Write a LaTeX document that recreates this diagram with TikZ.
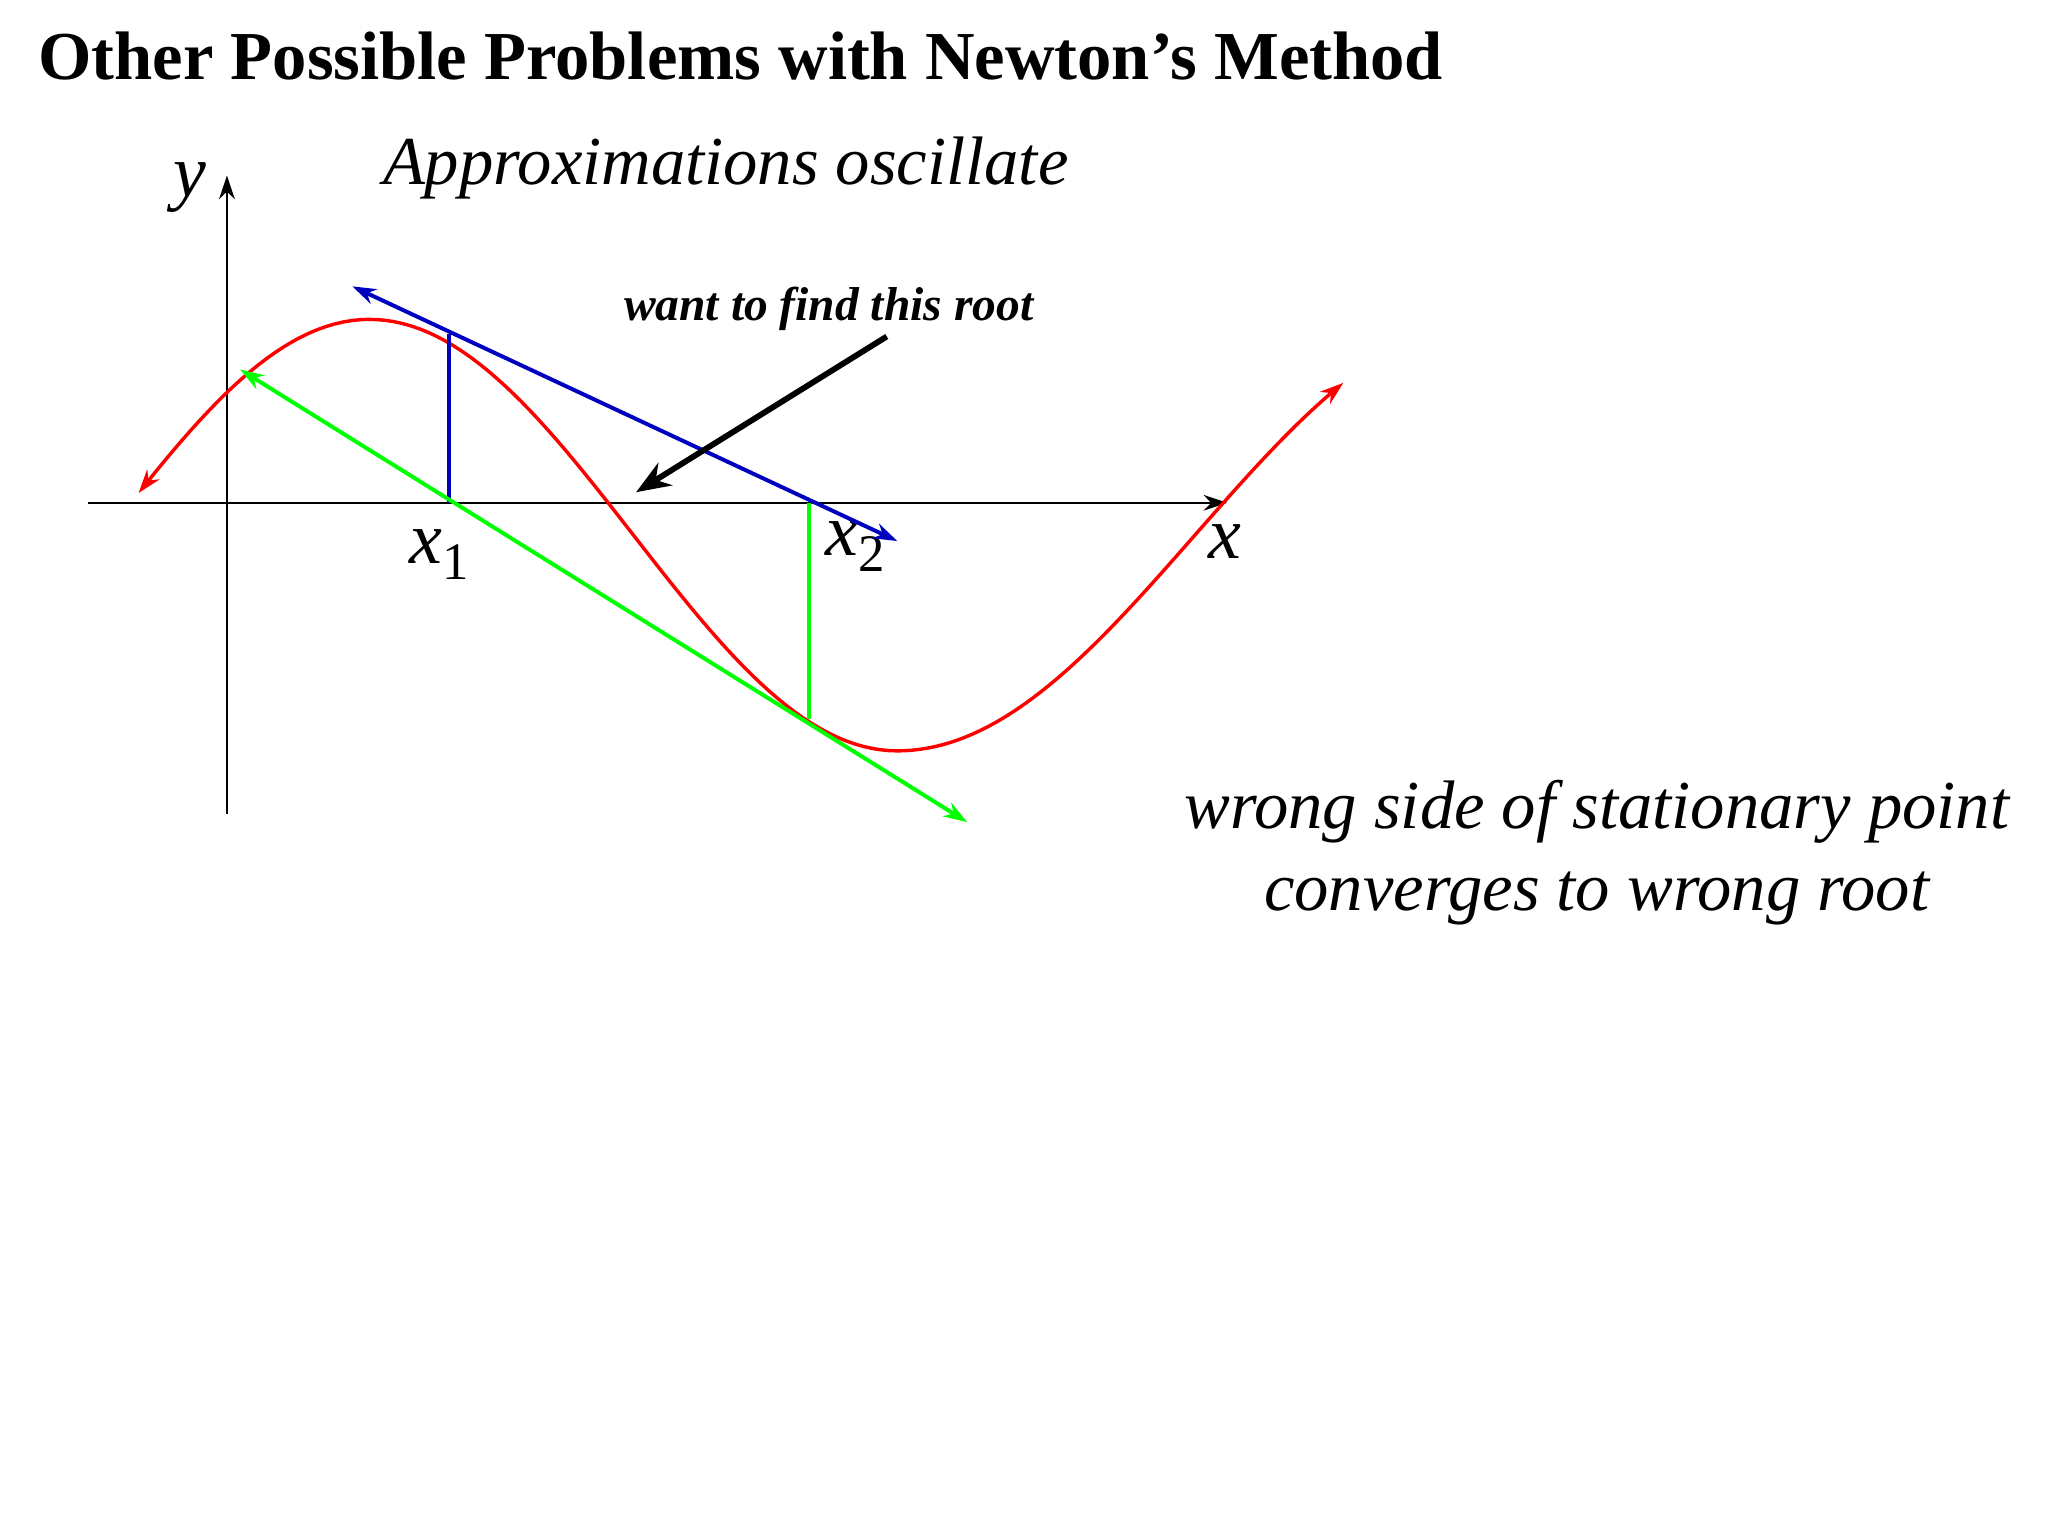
\documentclass[tikz,border=0pt]{standalone}
\usepackage{fontspec}
\setmainfont{Liberation Serif}
\usetikzlibrary{arrows.meta}
\begin{document}
\begin{tikzpicture}[x=0.5pt,y=-0.5pt,
  tip/.style={-{Stealth[length=9pt,width=6pt]}},
  tips/.style={{Stealth[length=9pt,width=6pt]}-{Stealth[length=9pt,width=6pt]}},
  lab/.style={font=\fontsize{26}{30}\selectfont\itshape}]
\useasboundingbox (0,0) rectangle (1552,1164);
\fill[white] (0,0) rectangle (1552,1164);
\node[anchor=base west,font=\fontsize{26}{30}\selectfont\bfseries] (title) at (22,60) {Other Possible Problems with Newton’s Method};
\node[lab,anchor=base] (sub) at (550,140) {Approximations oscillate};
% axes
\coordinate (yb) at (172,617); \coordinate (yt) at (172,133);
\coordinate (xl) at (67,381); \coordinate (xr) at (930,381);
\draw[tip,line width=0.8pt] (yb) -- (yt);
\draw[tip,line width=0.8pt] (xl) -- (xr);
\node[font=\fontsize{28}{30}\selectfont\itshape] (ylab) at (144,142) {y};
\node[font=\fontsize{28}{30}\selectfont\itshape] (xlab) at (928,410) {x};
\node[font=\fontsize{28}{30}\selectfont] (x1) at (333,420) {\textit{x}\raisebox{-6pt}{\fontsize{20}{20}\selectfont 1}};
\node[font=\fontsize{28}{30}\selectfont] (x2) at (648,414) {\textit{x}\raisebox{-6pt}{\fontsize{20}{20}\selectfont 2}};
% curve
\draw[red,line width=1.3pt,tips]
  plot[domain=105:680,samples=90] (\x,{405.5-163.5*cos(0.45*(\x-280))})
  -- plot[domain=680:1018,samples=60] (\x,{405.5+163.5*cos(0.3991*(\x-680))});
% blue tangent
\coordinate (b1) at (267,217); \coordinate (b2) at (680,410);
\coordinate (p1) at (340,253); \coordinate (q1) at (340,381);
\draw[blue!75!black,line width=1.5pt,tips] (b1) -- (b2);
\draw[blue!75!black,line width=1.5pt] (q1) -- (p1);
% green tangent
\coordinate (g1) at (182,280); \coordinate (g2) at (733,623);
\coordinate (p2) at (613,545); \coordinate (q2) at (613,381);
\draw[green,line width=1.5pt,tips] (g1) -- (g2);
\draw[green,line width=1.5pt] (q2) -- (p2);
% annotation
\node[font=\fontsize{18}{20}\selectfont\bfseries\itshape,anchor=base] (want) at (628,243) {want to find this root};
\coordinate (a1) at (672,255); \coordinate (a2) at (482,373);
\draw[line width=2.2pt,-{Stealth[length=13pt,width=10pt]}] (a1) -- (a2);
\node[lab,anchor=base] (note1) at (1210,628) {wrong side of stationary point};
\node[lab,anchor=base] (note2) at (1210,690) {converges to wrong root};
\end{tikzpicture}
\end{document}
